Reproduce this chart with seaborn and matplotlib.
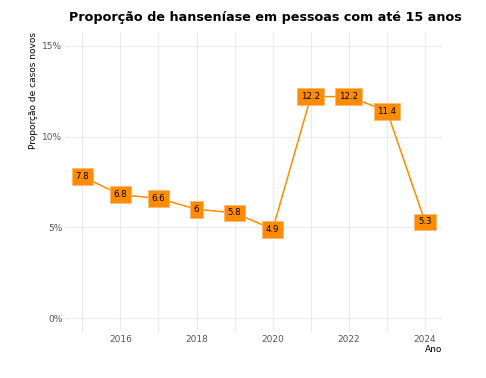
import pandas as pd
import matplotlib
matplotlib.use("Agg")
import matplotlib.pyplot as plt
import seaborn as sns
from matplotlib.ticker import MultipleLocator, FuncFormatter

# ------------------------------
# Data: proportion of new leprosy cases in people up to 15 years
# ------------------------------
anos = [2015, 2016, 2017, 2018, 2019, 2020, 2021, 2022, 2023, 2024]
proporcao = [7.8, 6.8, 6.6, 6.0, 5.8, 4.9, 12.2, 12.2, 11.4, 5.3]

df = pd.DataFrame({"Ano": anos, "prop": proporcao})

sns.set_style("white")
plt.rcParams["font.family"] = ["DejaVu Sans"]

fig = plt.figure(figsize=(4.86, 3.78), dpi=100)
ax = fig.add_axes([0.134, 0.122, 0.776, 0.793])

sns.lineplot(data=df, x="Ano", y="prop", color="#FF8C00", linewidth=1.1, ax=ax)

# ------------------------------
# Labels in orange boxes
# ------------------------------
for a, v in zip(df["Ano"], df["prop"]):
    ax.text(a, v, f"{v:g}", ha="center", va="center", fontsize=6.2, color="black",
            bbox=dict(boxstyle="square,pad=0.45", facecolor="#FF8C00",
                      edgecolor="#FFB870", linewidth=0.6))

ax.set_xlim(2014.55, 2024.45)
ax.set_ylim(-0.75, 15.75)
ax.xaxis.set_major_locator(MultipleLocator(2))
ax.xaxis.set_minor_locator(MultipleLocator(1))
ax.yaxis.set_major_locator(MultipleLocator(5))
ax.yaxis.set_major_formatter(FuncFormatter(lambda y, p: f"{y:.0f}%"))

ax.grid(True, which="both", axis="x", color="#EBEBEB", linewidth=0.8)
ax.grid(True, which="major", axis="y", color="#EBEBEB", linewidth=0.8)
ax.set_axisbelow(True)
for s in ax.spines.values():
    s.set_visible(False)
ax.tick_params(which="both", length=0, labelsize=6.5, labelcolor="#555555", pad=2)

ax.set_title("Proporção de hanseníase em pessoas com até 15 anos",
             fontsize=9.2, fontweight="bold", color="black", pad=8, x=0.53)
ax.set_xlabel("Ano", fontsize=6.5, color="black", loc="right", labelpad=1)
ax.set_ylabel("Proporção de casos novos", fontsize=6.5, color="black", loc="top", labelpad=3)

fig.savefig("out.png", dpi=100, facecolor="white")
